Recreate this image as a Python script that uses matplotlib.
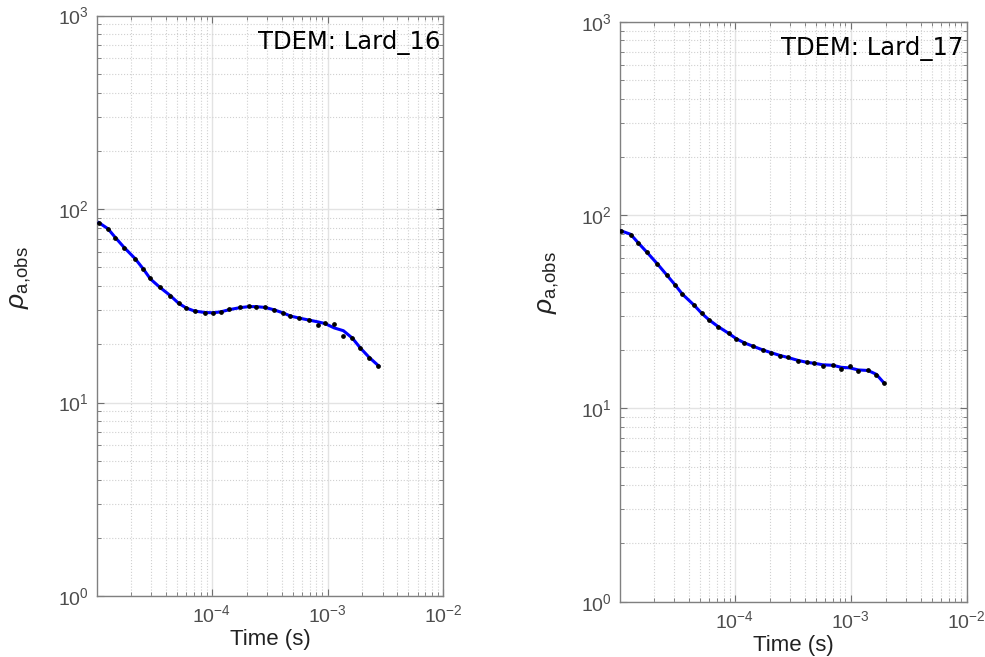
import matplotlib.pyplot as plt
from matplotlib.ticker import LogLocator, NullFormatter

# sounding Lard_16 (time in s, apparent resistivity in ohm-m)
t16 = [1.06e-5, 1.27e-5, 1.46e-5, 1.74e-5, 2.17e-5, 2.56e-5, 2.95e-5, 3.54e-5,
       4.38e-5, 5.16e-5, 6.01e-5, 7.09e-5, 8.7e-5, 1.02e-4, 1.19e-4, 1.42e-4,
       1.74e-4, 2.08e-4, 2.41e-4, 2.89e-4, 3.47e-4, 4.15e-4, 4.77e-4, 5.7e-4,
       6.86e-4, 8.26e-4, 9.5e-4, 1.14e-3, 1.37e-3, 1.64e-3, 1.91e-3, 2.29e-3,
       2.75e-3]
rho16_obs = [85, 78.9, 71.1, 63.1, 54.9, 48.8, 43.8, 39.6, 35.5, 32.7, 30.8,
             29.6, 29.1, 29.1, 29.4, 30.4, 31.0, 31.5, 31.2, 31.1, 30.0, 29.0,
             27.9, 27.5, 26.7, 25.2, 25.8, 25.4, 22.1, 21.6, 19.1, 16.9, 15.5]
rho16_fit = [85, 79, 71.5, 63.5, 55.5, 49, 43.5, 39.5, 35.7, 32.6, 30.8,
             29.7, 29.2, 29.1, 29.4, 30.2, 30.9, 31.3, 31.3, 31.0, 30.1, 29.0,
             28.0, 27.3, 26.7, 26.1, 25.6, 24.3, 23.5, 21.5, 19.2, 17.1, 15.5]

# sounding Lard_17
t17 = [1.05e-5, 1.26e-5, 1.46e-5, 1.75e-5, 2.15e-5, 2.58e-5, 3.04e-5, 3.52e-5,
       4.44e-5, 5.18e-5, 5.98e-5, 7.16e-5, 8.87e-5, 1.03e-4, 1.21e-4, 1.42e-4,
       1.76e-4, 2.06e-4, 2.43e-4, 2.89e-4, 3.51e-4, 4.17e-4, 4.86e-4, 5.73e-4,
       7.0e-4, 8.28e-4, 9.77e-4, 1.16e-3, 1.41e-3, 1.66e-3, 1.92e-3]
rho17_obs = [82.7, 78.9, 71.9, 64.1, 55.6, 49.1, 43.5, 38.9, 34.1, 31.0, 28.6,
             26.5, 24.4, 22.9, 21.8, 21.0, 20.0, 19.4, 18.7, 18.4, 17.6, 17.3,
             17.2, 16.6, 16.8, 16.0, 16.5, 15.6, 15.7, 14.9, 13.6]
rho17_fit = [82.7, 79.5, 72.0, 64.0, 55.8, 49.0, 43.6, 39.0, 34.2, 31.0, 28.7,
             26.5, 24.4, 22.9, 21.8, 21.0, 20.0, 19.4, 18.8, 18.3, 17.7, 17.3,
             17.1, 16.8, 16.7, 16.3, 16.2, 15.8, 15.7, 15.0, 13.6]

soundings = [
    ("TDEM: Lard_16", t16, rho16_obs, rho16_fit, [0.0985, 0.0928, 0.3516, 0.8836], 0.549, -0.185),
    ("TDEM: Lard_17", t17, rho17_obs, rho17_fit, [0.6294, 0.0842, 0.3520, 0.8828], 0.551, -0.17),
]

plt.rcParams['font.family'] = ['Liberation Sans', 'DejaVu Sans']
plt.rcParams['mathtext.fontset'] = 'custom'
plt.rcParams['mathtext.rm'] = 'Liberation Sans'
plt.rcParams['mathtext.it'] = 'Liberation Sans:italic'

fig = plt.figure(figsize=(9.85, 6.57), dpi=100)

for name, t, obs, fit, pos, ylab_y, ylab_x in soundings:
    ax = fig.add_axes(pos)
    ax.plot(t, fit, color='#0000ff', lw=2.2, zorder=3)
    ax.plot(t, obs, 'o', color='black', ms=2.4, zorder=4)
    ax.set_xscale('log')
    ax.set_yscale('log')
    ax.set_xlim(1.02e-5, 1e-2)
    ax.set_ylim(1, 1000)

    ax.xaxis.set_major_locator(LogLocator(base=10, numticks=10))
    ax.yaxis.set_major_locator(LogLocator(base=10, numticks=10))
    ax.xaxis.set_minor_locator(LogLocator(base=10, subs=range(2, 10), numticks=20))
    ax.yaxis.set_minor_locator(LogLocator(base=10, subs=range(2, 10), numticks=20))
    ax.xaxis.set_minor_formatter(NullFormatter())
    ax.yaxis.set_minor_formatter(NullFormatter())

    ax.grid(True, which='major', color='#e3e3e3', lw=1.0, ls='-')
    ax.grid(True, which='minor', color='#d0d0d0', lw=0.8, ls=':')
    ax.set_axisbelow(True)

    ax.tick_params(which='both', direction='in', top=True, right=True,
                   color='#707070', labelcolor='#4d4d4d')
    ax.tick_params(which='major', length=5, width=0.8, labelsize=14, pad=6)
    ax.tick_params(which='minor', length=3, width=0.6)
    for s in ax.spines.values():
        s.set_color('#808080')
        s.set_linewidth(1.0)

    ax.set_xlabel('Time (s)', fontsize=16, color='#222222', labelpad=2)
    ax.set_ylabel(r'$\rho_{\mathrm{a,\!obs}}$', fontsize=19, color='#222222')
    ax.yaxis.set_label_coords(ylab_x, ylab_y)

    ax.text(0.99, 0.975, name, transform=ax.transAxes, ha='right', va='top',
            fontsize=17.5, family=['DejaVu Sans'], color='black')

plt.savefig("out.png", dpi=100)
